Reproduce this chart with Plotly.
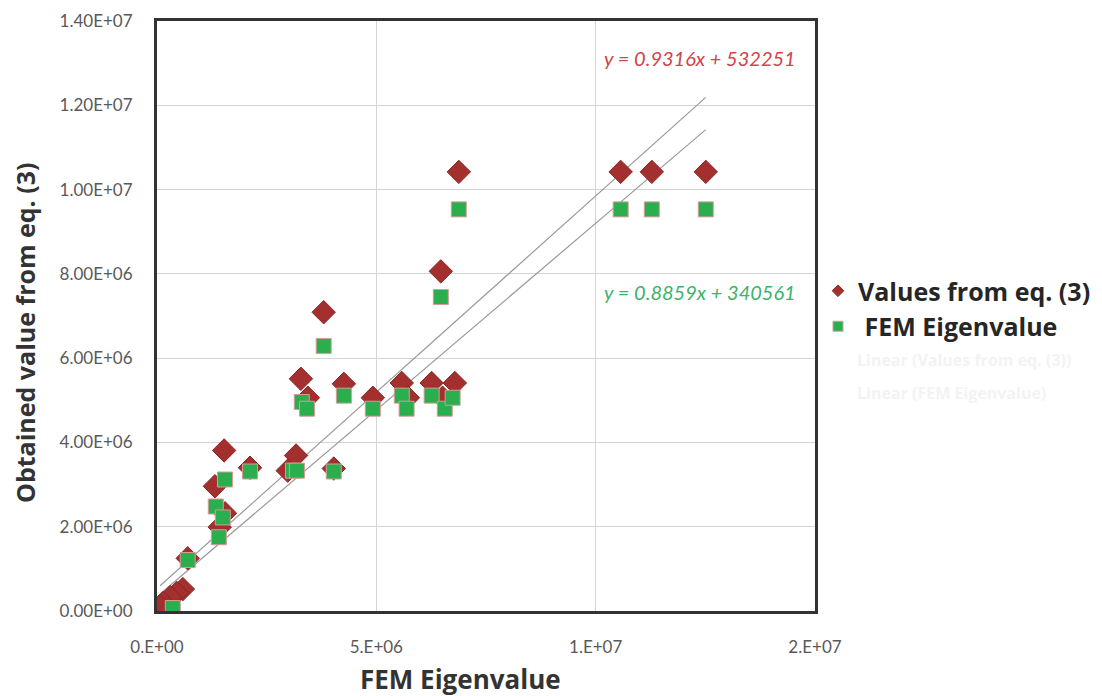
import numpy as np
import plotly.graph_objects as go

# ---- data ----
eq_x = [1.53e6, 2.12e6, 1.32e6, 1.55e6, 1.43e6, 0.70e6, 0.59e6, 0.45e6, 0.30e6, 0.14e6, 0.07e6,
        3.17e6, 2.98e6, 4.03e6, 3.28e6, 3.44e6, 4.26e6, 4.92e6, 5.58e6, 5.72e6, 6.26e6, 6.51e6,
        6.79e6, 3.80e6, 6.47e6, 6.88e6, 10.57e6, 11.28e6, 12.51e6]
eq_y = [3.81e6, 3.40e6, 2.96e6, 2.32e6, 1.99e6, 1.25e6, 0.52e6, 0.43e6, 0.33e6, 0.19e6, 0.12e6,
        3.69e6, 3.33e6, 3.38e6, 5.51e6, 5.06e6, 5.39e6, 5.06e6, 5.41e6, 5.06e6, 5.41e6, 5.06e6,
        5.41e6, 7.09e6, 8.06e6, 10.42e6, 10.42e6, 10.42e6, 10.42e6]

fem_x = [1.55e6, 2.12e6, 1.34e6, 1.50e6, 1.41e6, 0.70e6, 0.36e6, 3.10e6, 3.19e6, 4.03e6,
         3.30e6, 3.42e6, 4.26e6, 4.92e6, 5.58e6, 5.69e6, 6.26e6, 6.56e6, 6.74e6, 3.80e6,
         6.47e6, 6.88e6, 10.57e6, 11.28e6, 12.51e6]
fem_y = [3.12e6, 3.31e6, 2.48e6, 2.22e6, 1.75e6, 1.21e6, 0.07e6, 3.33e6, 3.33e6, 3.31e6,
         4.96e6, 4.80e6, 5.11e6, 4.80e6, 5.11e6, 4.80e6, 5.11e6, 4.80e6, 5.06e6, 6.29e6,
         7.45e6, 9.53e6, 9.53e6, 9.53e6, 9.53e6]

fit_eq = (0.9316, 532251)
fit_fem = (0.8859, 340561)

x_tickvals = [0, 5e6, 1e7, 1.5e7]
x_ticktext = ["0.E+00", "5.E+06", "1.E+07", "2.E+07"]
y_tickvals = [0, 2e6, 4e6, 6e6, 8e6, 1e7, 1.2e7, 1.4e7]
y_ticktext = ["0.00E+00", "2.00E+06", "4.00E+06", "6.00E+06", "8.00E+06",
              "1.00E+07", "1.20E+07", "1.40E+07"]

FONT = "Lato, 'Open Sans', sans-serif"
BOLD = "'Open Sans', Lato, sans-serif"
RED = "#a3302e"
GREEN = "#2bae4e"

fig = go.Figure()

# trend lines
xmin = min(min(eq_x), min(fem_x))
xmax = max(max(eq_x), max(fem_x))
lx = np.array([xmin, xmax])
for (m, c) in (fit_eq, fit_fem):
    fig.add_trace(go.Scatter(x=lx, y=m * lx + c, mode="lines",
                             line=dict(color="#9a9a9a", width=1.2),
                             showlegend=False, hoverinfo="skip"))

fig.add_trace(go.Scatter(
    x=eq_x, y=eq_y, mode="markers", showlegend=False,
    marker=dict(symbol="diamond", size=18, color=RED,
                line=dict(color="#8a2422", width=1))))
fig.add_trace(go.Scatter(
    x=fem_x, y=fem_y, mode="markers", showlegend=False,
    marker=dict(symbol="square", size=15, color=GREEN,
                line=dict(color="#d99a9a", width=1))))

# legend entries (small symbols as in the reference)
fig.add_trace(go.Scatter(x=[None], y=[None], mode="markers", name="Values from eq. (3)",
                         marker=dict(symbol="diamond", size=9, color=RED,
                                     line=dict(color="#8a2422", width=1))))
fig.add_trace(go.Scatter(x=[None], y=[None], mode="markers", name=" FEM Eigenvalue",
                         marker=dict(symbol="square", size=10, color=GREEN,
                                     line=dict(color="#d99a9a", width=1))))

fig.update_layout(
    width=1102, height=696,
    margin=dict(l=157, r=287, t=21, b=85, autoexpand=False),
    paper_bgcolor="white", plot_bgcolor="white",
    font=dict(family=FONT, color="#595959"),
    showlegend=True,
    legend=dict(xref="container", yref="container",
                x=818 / 1102, y=1 - 268 / 696, xanchor="left", yanchor="top",
                font=dict(family=BOLD, size=25, color="#262626", weight="bold"),
                itemsizing="trace", tracegroupgap=0, itemwidth=30,
                bgcolor="rgba(0,0,0,0)"),
)

fig.update_xaxes(range=[0, 1.5e7], tickvals=x_tickvals, ticktext=x_ticktext,
                 showgrid=True, gridcolor="#d4d4d4", gridwidth=1,
                 showline=True, mirror=True, linecolor="#333333", linewidth=3,
                 ticks="outside", ticklen=19, tickcolor="rgba(0,0,0,0)",
                 tickfont=dict(size=17, color="#595959"), zeroline=False)
fig.update_yaxes(range=[0, 1.4e7], tickvals=y_tickvals, ticktext=y_ticktext,
                 showgrid=True, gridcolor="#d4d4d4", gridwidth=1,
                 showline=True, mirror=True, linecolor="#333333", linewidth=3,
                 ticks="outside", ticklen=18, tickcolor="rgba(0,0,0,0)",
                 tickfont=dict(size=17, color="#595959"), zeroline=False)

# axis titles
fig.add_annotation(text="<b>FEM Eigenvalue</b>", xref="paper", yref="paper",
                   x=(460 - 157) / 658, y=-(679 - 611) / 590, showarrow=False,
                   xanchor="center", yanchor="middle",
                   font=dict(family=BOLD, size=26, color="#333333"))
fig.add_annotation(text="<b>Obtained value from eq. (3)</b>", xref="paper", yref="paper",
                   x=-(157 - 25) / 658, y=(611 - 333) / 590, showarrow=False, textangle=-90,
                   xanchor="center", yanchor="middle",
                   font=dict(family=BOLD, size=25, color="#333333"))

# equation labels
fig.add_annotation(text="<i>y = 0.9316x + 532251</i>", xref="paper", yref="paper",
                   x=(700 - 157) / 658, y=(611 - 58) / 590, showarrow=False,
                   xanchor="center", yanchor="middle",
                   font=dict(family=FONT, size=20, color="#d2434b"))
fig.add_annotation(text="<i>y = 0.8859x + 340561</i>", xref="paper", yref="paper",
                   x=(700 - 157) / 658, y=(611 - 292) / 590, showarrow=False,
                   xanchor="center", yanchor="middle",
                   font=dict(family=FONT, size=20, color="#3cb36a"))

# faded legend entries for the trend lines
for ypix, txt in ((360, "Linear (Values from eq. (3))"), (393, "Linear (FEM Eigenvalue)")):
    fig.add_annotation(text="<b>" + txt + "</b>", xref="paper", yref="paper",
                       x=(855 - 157) / 658, y=(611 - ypix) / 590, xanchor="left",
                       yanchor="middle", showarrow=False,
                       font=dict(family=BOLD, size=16, color="#f3f3f3"))

fig.write_html("out.html")
